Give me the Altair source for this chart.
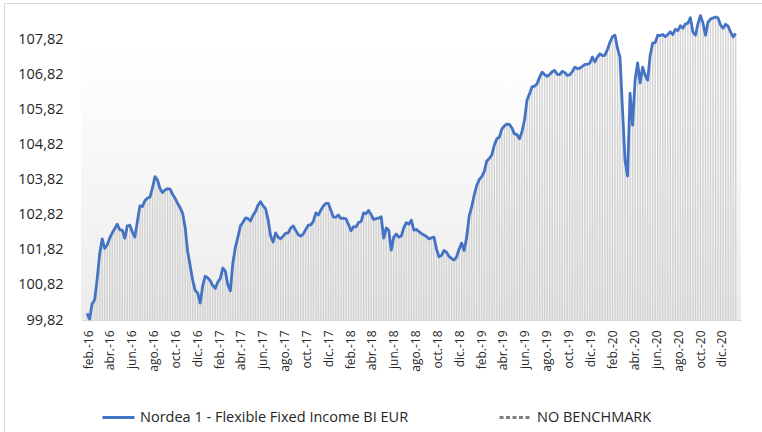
import altair as alt
import pandas as pd

# ---------------- data ----------------
start_date = "2016-01-29"          # first weekly observation (Friday)
week_step = "7D"

nav_values = [
    100.01, 99.85, 100.28, 100.39, 100.97, 101.70, 102.13, 101.86, 101.96, 102.15,
    102.30, 102.42, 102.55, 102.39, 102.38, 102.15, 102.50, 102.52, 102.33, 102.18,
    102.62, 103.07, 103.05, 103.22, 103.29, 103.32, 103.58, 103.90, 103.81, 103.56,
    103.45, 103.52, 103.56, 103.55, 103.40, 103.29, 103.14, 103.02, 102.86, 102.47,
    101.78, 101.37, 100.96, 100.66, 100.59, 100.30, 100.79, 101.07, 101.02, 100.94,
    100.80, 100.72, 100.90, 101.00, 101.30, 101.21, 100.82, 100.65, 101.45, 101.89,
    102.18, 102.50, 102.60, 102.73, 102.71, 102.64, 102.80, 102.91, 103.09, 103.19,
    103.07, 102.99, 102.68, 102.22, 102.04, 102.30, 102.18, 102.13, 102.21, 102.29,
    102.30, 102.44, 102.50, 102.37, 102.25, 102.21, 102.27, 102.40, 102.52, 102.53,
    102.63, 102.87, 102.81, 102.95, 103.07, 103.14, 103.14, 102.94, 102.75, 102.75,
    102.81, 102.71, 102.72, 102.70, 102.54, 102.36, 102.48, 102.47, 102.60, 102.62,
    102.87, 102.85, 102.94, 102.82, 102.68, 102.71, 102.72, 102.76, 102.15, 102.44,
    102.38, 101.81, 102.18, 102.27, 102.18, 102.21, 102.45, 102.59, 102.55, 102.66,
    102.38, 102.40, 102.34, 102.28, 102.24, 102.20, 102.13, 102.16, 102.18, 101.84,
    101.62, 101.66, 101.80, 101.75, 101.63, 101.57, 101.53, 101.62, 101.84, 102.01,
    101.80, 102.18, 102.78, 103.04, 103.38, 103.65, 103.82, 103.90, 104.05, 104.35,
    104.42, 104.52, 104.80, 104.98, 105.03, 105.26, 105.35, 105.40, 105.39, 105.29,
    105.12, 105.10, 104.98, 105.18, 105.51, 106.08, 106.26, 106.46, 106.48, 106.55,
    106.73, 106.88, 106.81, 106.76, 106.81, 106.89, 106.93, 106.82, 106.81, 106.90,
    106.87, 106.79, 106.80, 106.89, 107.02, 106.98, 106.99, 107.04, 107.10, 107.10,
    107.14, 107.31, 107.17, 107.31, 107.40, 107.35, 107.36, 107.52, 107.73, 107.89,
    107.93, 107.56, 107.30, 105.80, 104.37, 103.92, 106.28, 105.37, 106.65, 107.14,
    106.57, 107.02, 106.79, 106.65, 107.36, 107.71, 107.72, 107.93, 107.92, 107.95,
    107.89, 107.95, 108.03, 107.95, 108.10, 108.06, 108.20, 108.13, 108.25, 108.27,
    108.43, 108.02, 107.93, 108.25, 108.49, 108.28, 107.93, 108.30, 108.39, 108.42,
    108.45, 108.42, 108.22, 108.13, 108.24, 108.19, 108.02, 107.88, 107.98,
]

series_names = ["Nordea 1 - Flexible Fixed Income BI EUR", "NO BENCHMARK"]
series_colors = ["#4472C4", "#7F7F7F"]
series_dashes = [[1, 0], [4, 2.5]]

y_ticks = [99.82, 100.82, 101.82, 102.82, 103.82, 104.82, 105.82, 106.82, 107.82]
y_domain = [99.82, 108.62]

tick_years = [2016, 2017, 2018, 2019, 2020]
tick_months = [2, 4, 6, 8, 10, 12]
month_abbr = ["ene.", "feb.", "mar.", "abr.", "may.", "jun.",
              "jul.", "ago.", "sep.", "oct.", "nov.", "dic."]

# ---------------- table ----------------
df = pd.DataFrame({
    "fecha": pd.date_range(start_date, periods=len(nav_values), freq=week_step),
    "valor": nav_values,
    "serie": series_names[0],
})

x_tick_values = [alt.DateTime(year=y, month=m, date=1) for y in tick_years for m in tick_months]
month_js = "[" + ",".join("'" + m + "'" for m in month_abbr) + "]"

FONT = "Open Sans"
TXT = "#262626"

x_enc = alt.X(
    "fecha:T",
    scale=alt.Scale(domain=[alt.DateTime(year=2016, month=1, date=26),
                            alt.DateTime(year=2021, month=1, date=9)]),
    axis=alt.Axis(
        title=None, values=x_tick_values, grid=False, ticks=False, tickSize=0,
        domain=True, domainColor="#d9d9d9", domainWidth=1,
        labelAngle=-90, labelPadding=10, labelFont=FONT, labelFontSize=12,
        labelColor=TXT, labelOverlap=False,
        labelExpr=month_js + "[month(datum.value)] + '-' + timeFormat(datum.value, '%y')",
    ),
)
y_enc = alt.Y(
    "valor:Q",
    scale=alt.Scale(domain=y_domain, zero=False, nice=False),
    axis=alt.Axis(
        title=None, values=y_ticks, grid=False, ticks=False, tickSize=0, domain=False,
        labelPadding=18, labelFont=FONT, labelFontSize=14.5, labelColor=TXT,
        labelExpr="replace(format(datum.value, '.2f'), '.', ',')",
    ),
)

legend = alt.Legend(
    title=None, orient="none", legendX=20, legendY=389, direction="horizontal",
    columns=2, columnPadding=84, symbolType="stroke", symbolSize=1024,
    symbolStrokeWidth=3, labelFont=FONT, labelFontSize=14.5, labelColor=TXT,
    labelOffset=4, labelLimit=500,
)

background = alt.Chart(alt.Data(values=[{"k": 1}])).mark_rect(
    color=alt.Gradient(
        gradient="linear",
        stops=[alt.GradientStop(color="#ffffff", offset=0),
               alt.GradientStop(color="#ffffff", offset=0.12),
               alt.GradientStop(color="#ececec", offset=1)],
        x1=0, x2=0, y1=0, y2=1,
    )
).encode(x=alt.value(0), x2=alt.value("width"), y=alt.value(0), y2=alt.value("height"))

base = alt.Chart(df)

bars = base.mark_bar(color="#d2d2d2", size=1.4, clip=True).encode(
    x=x_enc, y=y_enc, y2=alt.datum(y_domain[0])
)

line = base.mark_line(strokeWidth=2.8, strokeJoin="round").encode(
    x=x_enc, y=y_enc,
    color=alt.Color("serie:N", scale=alt.Scale(domain=series_names, range=series_colors), legend=legend),
    strokeDash=alt.StrokeDash("serie:N", scale=alt.Scale(domain=series_names, range=series_dashes), legend=legend),
)

frame = alt.Chart(alt.Data(values=[{"k": 1}])).mark_rect(
    filled=False, stroke="#d9d9d9", strokeWidth=1, clip=False
).encode(x=alt.value(-76.5), x2=alt.value(720), y=alt.value(-7.5), y2=alt.value(460))

chart = alt.layer(background, bars, line, frame).properties(
    width=660, height=309,
    autosize=alt.AutoSizeParams(type="none"),
    padding={"left": 81, "top": 11, "right": 21, "bottom": 112},
    background="white",
).configure_view(stroke=None)

chart.save("out.html", embed_options={"renderer": "svg", "actions": False})
